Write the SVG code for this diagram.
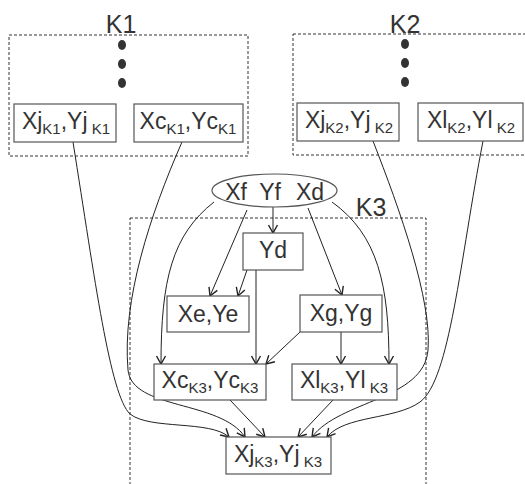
<svg xmlns="http://www.w3.org/2000/svg" width="525" height="484" viewBox="0 0 525 484">
<style>
.grp{fill:none;stroke:#333;stroke-width:1;stroke-dasharray:3,2}
.box{fill:#fff;stroke:#555;stroke-width:1.2}
.t{font-family:"Liberation Sans",Arial,sans-serif;font-size:23px;fill:#333;text-anchor:middle}
.s{font-size:15px}
.big{font-family:"Liberation Sans",Arial,sans-serif;font-size:25px;fill:#333;text-anchor:middle}
.e{fill:none;stroke:#222;stroke-width:1;marker-end:url(#a)}
.dot{fill:#333}
</style>
<defs>
<marker id="a" markerUnits="userSpaceOnUse" markerWidth="12" markerHeight="12" refX="9" refY="5" orient="auto" viewBox="0 0 12 10">
<path d="M1,0.5 L9,5 L1,9.5" fill="none" stroke="#222" stroke-width="1.4"/>
</marker>
</defs>
<g id="K1">
<rect class="grp" x="9" y="35" width="239" height="121"/>
<text class="big" x="121" y="33">K1</text>
<ellipse class="dot" cx="122" cy="45" rx="4" ry="5"/>
<ellipse class="dot" cx="122" cy="64" rx="4" ry="5"/>
<ellipse class="dot" cx="122" cy="83" rx="4" ry="5"/>
</g>
<g id="K2">
<rect class="grp" x="293" y="34" width="240" height="121"/>
<text class="big" x="405" y="33">K2</text>
<ellipse class="dot" cx="405" cy="44" rx="4" ry="5"/>
<ellipse class="dot" cx="405" cy="63" rx="4" ry="5"/>
<ellipse class="dot" cx="405" cy="82" rx="4" ry="5"/>
</g>
<g id="K3">
<rect class="grp" x="130" y="218" width="296" height="280"/>
<text class="big" x="371" y="216">K3</text>
</g>
<g id="connectors">
<path class="e" d="M273,207 L273,233"/>
<path class="e" d="M247,210 L210,296"/>
<path class="e" d="M247,270 L238,296"/>
<path class="e" d="M308,208 L342,295"/>
<path class="e" d="M214,202 C172,235 161,280 161,364"/>
<path class="e" d="M256,270 L256,364"/>
<path class="e" d="M300,332 L266,364"/>
<path class="e" d="M341,332 L341,364"/>
<path class="e" d="M332,202 C378,235 389,285 389,364"/>
<path class="e" d="M230,400 L265,437"/>
<path class="e" d="M333,400 L298,437"/>
<path class="e" d="M73,142 C95,280 110,395 130,414 C150,430 210,420 229,437"/>
<path class="e" d="M182,142 C150,215 122,300 128,370 C132,410 220,400 245,437"/>
<path class="e" d="M373,141 C400,210 432,300 428,350 C424,400 340,400 312,437"/>
<path class="e" d="M483,141 C460,260 450,380 420,402 C395,420 345,415 327,437"/>
</g>
<g id="XjK1">
<rect class="box" x="14" y="104" width="102" height="38"/>
<text class="t" x="66" y="129">Xj<tspan class="s" dy="5">K1</tspan><tspan dy="-5">,Yj</tspan><tspan class="s" dy="5"> K1</tspan></text>
</g>
<g id="XcK1">
<rect class="box" x="134" y="104" width="109" height="38"/>
<text class="t" x="188" y="129">Xc<tspan class="s" dy="5">K1</tspan><tspan dy="-5">,Yc</tspan><tspan class="s" dy="5">K1</tspan></text>
</g>
<g id="XjK2">
<rect class="box" x="297" y="103" width="102" height="38"/>
<text class="t" x="349" y="128">Xj<tspan class="s" dy="5">K2</tspan><tspan dy="-5">,Yj</tspan><tspan class="s" dy="5"> K2</tspan></text>
</g>
<g id="XlK2">
<rect class="box" x="418" y="103" width="105" height="38"/>
<text class="t" x="471" y="128">Xl<tspan class="s" dy="5">K2</tspan><tspan dy="-5">,Yl</tspan><tspan class="s" dy="5"> K2</tspan></text>
</g>
<g id="XfYfXd">
<ellipse class="box" cx="274.5" cy="190.5" rx="62.5" ry="16.5"/>
<text class="t" x="236" y="200">Xf</text>
<text class="t" x="270" y="200">Yf</text>
<text class="t" x="310" y="200">Xd</text>
</g>
<g id="Yd">
<rect class="box" x="243" y="233" width="60" height="37"/>
<text class="t" x="273" y="258">Yd</text>
</g>
<g id="XeYe">
<rect class="box" x="167" y="296" width="82" height="36"/>
<text class="t" x="208" y="322">Xe,Ye</text>
</g>
<g id="XgYg">
<rect class="box" x="300" y="295" width="82" height="37"/>
<text class="t" x="341" y="321">Xg,Yg</text>
</g>
<g id="XcK3">
<rect class="box" x="154" y="364" width="112" height="36"/>
<text class="t" x="210" y="388">Xc<tspan class="s" dy="5">K3</tspan><tspan dy="-5">,Yc</tspan><tspan class="s" dy="5">K3</tspan></text>
</g>
<g id="XlK3">
<rect class="box" x="292" y="364" width="105" height="36"/>
<text class="t" x="344" y="388">Xl<tspan class="s" dy="5">K3</tspan><tspan dy="-5">,Yl</tspan><tspan class="s" dy="5"> K3</tspan></text>
</g>
<g id="XjK3">
<rect class="box" x="226" y="437" width="105" height="37"/>
<text class="t" x="278" y="462">Xj<tspan class="s" dy="5">K3</tspan><tspan dy="-5">,Yj</tspan><tspan class="s" dy="5"> K3</tspan></text>
</g>
</svg>
